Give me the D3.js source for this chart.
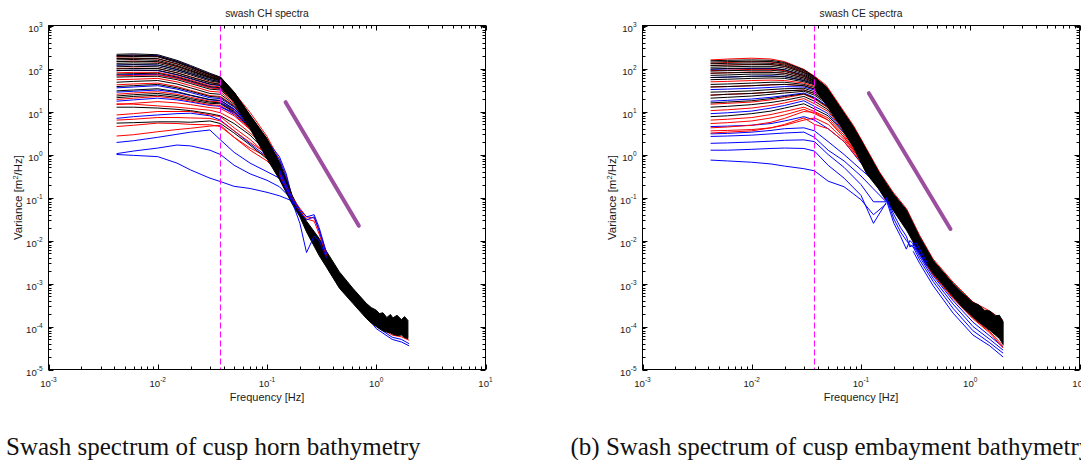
<!DOCTYPE html>
<html>
<head>
<meta charset="utf-8">
<script src="https://cdn.jsdelivr.net/npm/d3@7"></script>
<style>
  body { margin: 0; background: #fff; }
  .ax text { font-family: "Liberation Sans", Arial, sans-serif; fill: #1a1a1a; }
  .cap { font-family: "Liberation Serif", "Times New Roman", serif; fill: #111; }
</style>
</head>
<body>
<svg id="fig" width="1081" height="460"></svg>
<script>
// frequencies (Hz) where the low-frequency part of every spectrum was read
const freqLow = [0.0042, 0.006, 0.01, 0.015, 0.02, 0.03, 0.0375, 0.05, 0.07, 0.1, 0.13, 0.17];

// ---- swash CH (cusp horn) : log10 variance at freqLow ----
const chBlue = [
  [2.30, 2.31, 2.30, 2.17, 2.05, 1.87, 1.79, 1.44, 0.89, 0.34, -0.22, -1.01],
  [2.08, 2.09, 2.08, 1.97, 1.88, 1.74, 1.69, 1.34, 0.78, 0.22, -0.31, -1.04],
  [1.95, 1.96, 1.95, 1.85, 1.76, 1.63, 1.60, 1.28, 0.73, 0.18, -0.35, -1.05],
  [1.85, 1.86, 1.86, 1.78, 1.69, 1.56, 1.53, 1.25, 0.72, 0.17, -0.36, -1.06],
  [1.55, 1.57, 1.60, 1.52, 1.44, 1.32, 1.30, 1.10, 0.67, 0.12, -0.40, -1.08],
  [1.45, 1.47, 1.50, 1.44, 1.37, 1.27, 1.25, 1.05, 0.66, 0.12, -0.40, -1.08],
  [1.24, 1.27, 1.31, 1.27, 1.22, 1.14, 1.12, 0.93, 0.60, 0.09, -0.42, -1.09],
  [0.84, 0.88, 0.92, 0.95, 0.96, 0.90, 0.80, 0.55, 0.25, -0.05, -0.30, -1.02],
  [0.28, 0.32, 0.40, 0.47, 0.52, 0.57, 0.34, 0.05, -0.20, -0.40, -0.55, -1.00],
  [0.02, 0.08, 0.15, 0.22, 0.20, 0.10, 0.00, -0.25, -0.45, -0.60, -0.75, -1.05],
  [0.00, -0.02, -0.05, -0.20, -0.36, -0.55, -0.63, -0.74, -0.79, -0.88, -0.96, -1.08]
];
const chRed = [
  [2.28, 2.29, 2.28, 2.15, 2.03, 1.86, 1.78, 1.43, 0.88, 0.32, -0.24, -1.01],
  [2.24, 2.24, 2.22, 2.10, 1.99, 1.83, 1.76, 1.40, 0.86, 0.30, -0.25, -1.02],
  [2.16, 2.17, 2.15, 2.04, 1.94, 1.79, 1.73, 1.37, 0.82, 0.26, -0.28, -1.03],
  [2.00, 2.01, 2.00, 1.90, 1.81, 1.68, 1.64, 1.31, 0.75, 0.20, -0.33, -1.05],
  [1.90, 1.91, 1.91, 1.82, 1.73, 1.60, 1.57, 1.27, 0.73, 0.18, -0.35, -1.06],
  [1.83, 1.84, 1.85, 1.77, 1.68, 1.55, 1.52, 1.24, 0.71, 0.16, -0.36, -1.06],
  [1.74, 1.75, 1.77, 1.69, 1.60, 1.47, 1.45, 1.20, 0.70, 0.15, -0.38, -1.07],
  [1.62, 1.64, 1.66, 1.58, 1.49, 1.37, 1.35, 1.14, 0.68, 0.13, -0.39, -1.07],
  [1.40, 1.43, 1.46, 1.40, 1.33, 1.24, 1.22, 1.02, 0.64, 0.11, -0.41, -1.08],
  [1.28, 1.31, 1.35, 1.30, 1.24, 1.16, 1.14, 0.95, 0.60, 0.10, -0.42, -1.09],
  [1.16, 1.19, 1.23, 1.20, 1.16, 1.09, 1.07, 0.90, 0.58, 0.12, -0.35, -1.09],
  [1.18, 1.17, 1.13, 1.10, 1.07, 1.03, 0.97, 0.80, 0.50, 0.15, -0.35, -1.05],
  [0.92, 0.95, 1.00, 1.00, 1.00, 0.92, 0.88, 0.62, 0.35, 0.00, -0.38, -1.06],
  [0.80, 0.82, 0.86, 0.86, 0.85, 0.84, 0.78, 0.55, 0.28, 0.02, -0.32, -1.06],
  [0.65, 0.68, 0.73, 0.72, 0.70, 0.69, 0.65, 0.40, 0.15, -0.05, -0.35, -1.07],
  [0.43, 0.46, 0.53, 0.58, 0.61, 0.66, 0.68, 0.40, 0.10, -0.15, -0.45, -1.08]
];
const chBlack = [
  [2.33, 2.34, 2.32, 2.19, 2.07, 1.89, 1.80, 1.45, 0.90, 0.35, -0.20, -1.00],
  [2.30, 2.31, 2.29, 2.16, 2.04, 1.86, 1.78, 1.43, 0.89, 0.33, -0.23, -1.01],
  [2.27, 2.28, 2.27, 2.14, 2.02, 1.85, 1.77, 1.42, 0.88, 0.32, -0.24, -1.02],
  [2.23, 2.24, 2.23, 2.11, 1.99, 1.82, 1.75, 1.40, 0.85, 0.29, -0.26, -1.02],
  [2.20, 2.21, 2.19, 2.07, 1.96, 1.80, 1.74, 1.38, 0.84, 0.28, -0.27, -1.03],
  [2.16, 2.17, 2.16, 2.05, 1.94, 1.79, 1.72, 1.36, 0.82, 0.25, -0.29, -1.03],
  [2.12, 2.13, 2.12, 2.01, 1.91, 1.77, 1.71, 1.35, 0.80, 0.24, -0.30, -1.04],
  [2.08, 2.09, 2.08, 1.98, 1.88, 1.74, 1.69, 1.34, 0.79, 0.22, -0.31, -1.04],
  [2.04, 2.05, 2.04, 1.94, 1.85, 1.71, 1.67, 1.33, 0.77, 0.21, -0.32, -1.05],
  [1.99, 2.00, 2.00, 1.90, 1.80, 1.67, 1.63, 1.30, 0.75, 0.20, -0.33, -1.05],
  [1.95, 1.96, 1.96, 1.86, 1.77, 1.64, 1.61, 1.29, 0.74, 0.19, -0.34, -1.05],
  [1.87, 1.88, 1.89, 1.80, 1.71, 1.58, 1.55, 1.26, 0.72, 0.17, -0.36, -1.06],
  [1.80, 1.81, 1.82, 1.74, 1.65, 1.52, 1.50, 1.23, 0.71, 0.16, -0.37, -1.06],
  [1.68, 1.70, 1.72, 1.64, 1.55, 1.42, 1.40, 1.17, 0.69, 0.14, -0.38, -1.07],
  [1.58, 1.60, 1.63, 1.55, 1.47, 1.35, 1.33, 1.12, 0.67, 0.13, -0.39, -1.07],
  [1.48, 1.50, 1.53, 1.46, 1.38, 1.28, 1.26, 1.06, 0.66, 0.12, -0.40, -1.08],
  [1.36, 1.39, 1.42, 1.37, 1.30, 1.22, 1.20, 1.00, 0.63, 0.11, -0.41, -1.08],
  [1.32, 1.35, 1.38, 1.33, 1.27, 1.19, 1.18, 0.98, 0.62, 0.10, -0.42, -1.09],
  [1.10, 1.10, 1.08, 1.05, 1.02, 0.95, 0.90, 0.72, 0.45, 0.05, -0.40, -1.06],
  [0.73, 0.74, 0.76, 0.76, 0.75, 0.78, 0.72, 0.50, 0.22, -0.10, -0.45, -1.08]
];
// converged high-frequency band (log10 upper / lower edge)
const chBandF  = [0.0375, 0.05, 0.07, 0.1, 0.13, 0.17, 0.2, 0.23, 0.3, 0.35, 0.46, 0.61, 0.81, 0.9, 1.0, 1.07, 1.15, 1.25, 1.35, 1.42, 1.55, 1.7, 1.82, 1.95];
const chBandHi = [1.80, 1.45, 0.92, 0.37, -0.18, -0.95, -1.30, -1.55, -1.95, -2.25, -2.73, -3.11, -3.46, -3.56, -3.62, -3.70, -3.68, -3.79, -3.72, -3.80, -3.74, -3.84, -3.77, -3.86];
const chBandLo = [1.58, 1.22, 0.60, -0.10, -0.58, -1.15, -1.45, -1.80, -2.35, -2.62, -3.11, -3.46, -3.81, -3.92, -4.00, -4.05, -4.10, -4.13, -4.15, -4.18, -4.21, -4.20, -4.26, -4.28];
// lines sticking out of the band
const chEdgeF = [0.0375, 0.05, 0.07, 0.1, 0.13, 0.15, 0.17];
const chEdgeRed  = [[1.62, 1.44, 0.98, 0.42, -0.12, -0.50, -0.98]];
const chEdgeBlue = [[1.20, 1.05, 0.70, 0.32, -0.05, -0.45, -1.00],
                    [1.10, 0.98, 0.65, 0.28, -0.12, -0.55, -1.02]];
const chBumpF = [0.13, 0.17, 0.2, 0.23, 0.27, 0.3, 0.35];
const chBumpRed  = [[-0.40, -1.00, -1.25, -1.45, -1.48, -1.75, -2.30],
                    [-0.45, -1.05, -1.30, -1.50, -1.55, -1.85, -2.35]];
const chBumpBlue = [[-0.35, -1.02, -1.28, -1.45, -1.40, -1.70, -2.28],
                    [-0.40, -1.05, -1.35, -1.52, -1.45, -1.78, -2.32],
                    [-0.50, -1.10, -1.60, -2.28, -1.90, -2.00, -2.40]];
const chEndF = [0.7, 1.0, 1.4, 1.7, 2.0];
const chEndRed  = [[-3.52, -3.98, -4.20, -4.24, -4.32]];
const chEndBlue = [[-3.55, -4.05, -4.30, -4.36, -4.45], [-3.50, -4.00, -4.25, -4.30, -4.40]];
const chSlope = [[0.148, 16.5], [0.693, 0.022]];

// ---- swash CE (cusp embayment) : log10 variance at freqLow ----
const ceBlue = [
  [1.98, 1.99, 2.00, 2.00, 1.97, 1.84, 1.72, 1.42, 0.85, 0.25, -0.30, -0.78],
  [1.79, 1.80, 1.82, 1.83, 1.81, 1.72, 1.64, 1.34, 0.77, 0.17, -0.36, -0.86],
  [1.51, 1.52, 1.54, 1.56, 1.58, 1.57, 1.50, 1.24, 0.67, 0.08, -0.42, -0.95],
  [1.24, 1.26, 1.29, 1.33, 1.37, 1.43, 1.33, 1.12, 0.60, 0.02, -0.46, -1.00],
  [0.95, 0.97, 1.01, 1.08, 1.14, 1.25, 1.12, 0.95, 0.52, -0.06, -0.50, -1.04],
  [0.65, 0.66, 0.68, 0.72, 0.78, 0.88, 0.80, 0.60, 0.30, -0.20, -0.55, -1.06],
  [0.48, 0.49, 0.52, 0.56, 0.60, 0.62, 0.55, 0.30, 0.00, -0.35, -0.60, -1.08],
  [0.42, 0.43, 0.45, 0.48, 0.50, 0.52, 0.40, 0.10, -0.15, -0.50, -0.80, -1.10],
  [0.26, 0.27, 0.29, 0.31, 0.33, 0.34, 0.30, 0.00, -0.30, -0.70, -1.10, -1.10],
  [0.10, 0.10, 0.12, 0.14, 0.15, 0.14, 0.08, -0.25, -0.55, -0.95, -1.60, -1.12],
  [-0.13, -0.15, -0.18, -0.22, -0.27, -0.33, -0.38, -0.62, -0.75, -1.05, -1.40, -1.15]
];
const ceRed = [
  [2.20, 2.22, 2.24, 2.22, 2.16, 1.98, 1.82, 1.52, 0.95, 0.35, -0.20, -0.68],
  [2.12, 2.14, 2.16, 2.15, 2.10, 1.94, 1.79, 1.49, 0.92, 0.32, -0.23, -0.71],
  [2.07, 2.08, 2.10, 2.09, 2.05, 1.90, 1.76, 1.46, 0.89, 0.29, -0.26, -0.74],
  [1.95, 1.96, 1.98, 1.98, 1.95, 1.83, 1.71, 1.41, 0.84, 0.24, -0.31, -0.79],
  [1.89, 1.90, 1.92, 1.92, 1.89, 1.78, 1.68, 1.38, 0.81, 0.21, -0.33, -0.82],
  [1.69, 1.70, 1.72, 1.73, 1.72, 1.66, 1.59, 1.30, 0.73, 0.13, -0.38, -0.90],
  [1.57, 1.58, 1.60, 1.62, 1.63, 1.60, 1.53, 1.26, 0.69, 0.10, -0.41, -0.93],
  [1.38, 1.40, 1.42, 1.45, 1.48, 1.50, 1.42, 1.19, 0.64, 0.05, -0.44, -0.98],
  [1.17, 1.19, 1.22, 1.27, 1.32, 1.40, 1.29, 1.08, 0.58, 0.00, -0.47, -1.01],
  [1.02, 1.04, 1.08, 1.14, 1.20, 1.30, 1.18, 1.00, 0.54, -0.04, -0.49, -1.03],
  [0.80, 0.82, 0.86, 0.93, 1.00, 1.10, 1.00, 0.85, 0.45, -0.10, -0.52, -1.05],
  [0.72, 0.74, 0.78, 0.85, 0.92, 1.05, 0.95, 0.80, 0.40, -0.12, -0.53, -1.06],
  [0.62, 0.64, 0.68, 0.75, 0.84, 1.00, 0.98, 0.80, 0.40, -0.12, -0.53, -1.06],
  [0.55, 0.56, 0.58, 0.62, 0.68, 0.80, 0.85, 0.70, 0.35, -0.15, -0.54, -1.06],
  [0.50, 0.52, 0.55, 0.62, 0.70, 0.85, 0.70, 0.60, 0.30, -0.18, -0.55, -1.07]
];
const ceBlack = [
  [2.18, 2.19, 2.20, 2.19, 2.14, 1.97, 1.81, 1.51, 0.94, 0.34, -0.21, -0.69],
  [2.15, 2.16, 2.17, 2.16, 2.12, 1.95, 1.80, 1.50, 0.93, 0.33, -0.22, -0.70],
  [2.11, 2.12, 2.13, 2.12, 2.08, 1.92, 1.78, 1.48, 0.91, 0.31, -0.24, -0.72],
  [2.07, 2.08, 2.09, 2.09, 2.05, 1.90, 1.76, 1.46, 0.89, 0.29, -0.26, -0.74],
  [2.03, 2.04, 2.05, 2.05, 2.01, 1.87, 1.74, 1.44, 0.87, 0.27, -0.28, -0.76],
  [1.99, 2.00, 2.01, 2.01, 1.97, 1.84, 1.72, 1.42, 0.85, 0.25, -0.30, -0.78],
  [1.94, 1.95, 1.96, 1.96, 1.93, 1.81, 1.70, 1.40, 0.83, 0.23, -0.32, -0.80],
  [1.89, 1.90, 1.91, 1.91, 1.89, 1.78, 1.68, 1.38, 0.81, 0.21, -0.33, -0.82],
  [1.84, 1.85, 1.87, 1.87, 1.85, 1.75, 1.66, 1.36, 0.79, 0.19, -0.34, -0.84],
  [1.79, 1.80, 1.82, 1.82, 1.81, 1.72, 1.64, 1.34, 0.77, 0.17, -0.36, -0.86],
  [1.74, 1.75, 1.77, 1.78, 1.77, 1.69, 1.62, 1.32, 0.75, 0.15, -0.37, -0.88],
  [1.63, 1.64, 1.66, 1.68, 1.68, 1.63, 1.56, 1.28, 0.71, 0.11, -0.40, -0.92],
  [1.57, 1.58, 1.60, 1.62, 1.63, 1.60, 1.52, 1.25, 0.69, 0.09, -0.41, -0.94],
  [1.45, 1.46, 1.48, 1.51, 1.53, 1.54, 1.46, 1.22, 0.66, 0.07, -0.43, -0.96],
  [1.38, 1.40, 1.42, 1.45, 1.48, 1.50, 1.42, 1.19, 0.64, 0.05, -0.44, -0.98],
  [1.31, 1.33, 1.36, 1.40, 1.43, 1.47, 1.38, 1.16, 0.62, 0.03, -0.45, -0.99],
  [1.20, 1.22, 1.25, 1.30, 1.35, 1.41, 1.31, 1.10, 0.59, 0.01, -0.46, -1.00],
  [1.10, 1.12, 1.16, 1.21, 1.26, 1.35, 1.24, 1.04, 0.56, -0.02, -0.48, -1.02],
  [0.88, 0.90, 0.95, 1.01, 1.08, 1.18, 1.06, 0.90, 0.50, -0.08, -0.51, -1.05]
];
const ceBandF  = [0.038, 0.048, 0.064, 0.085, 0.112, 0.148, 0.196, 0.261, 0.344, 0.457, 0.697, 0.85, 1.06, 1.2, 1.35, 1.51, 1.7, 1.85, 2.0];
const ceBandHi = [1.78, 1.58, 1.11, 0.65, 0.11, -0.44, -0.90, -1.29, -1.91, -2.46, -3.00, -3.22, -3.44, -3.50, -3.62, -3.64, -3.75, -3.74, -3.89];
const ceBandLo = [1.50, 1.16, 0.70, 0.18, -0.44, -0.83, -1.29, -1.76, -2.30, -2.77, -3.31, -3.56, -3.78, -3.90, -4.00, -4.09, -4.20, -4.28, -4.42];
const ceEdgeF = [0.038, 0.048, 0.064, 0.085, 0.112, 0.148, 0.196, 0.261, 0.344, 0.457, 0.697, 1.06, 1.51, 2.0];
const ceEdgeRed  = [[1.81, 1.61, 1.14, 0.68, 0.14, -0.41, -0.87, -1.26, -1.88, -2.43, -2.97, -3.43, -3.64, -3.86]];
const ceEdgeBlue = [];
const ceBumpF = [0.17, 0.2, 0.23, 0.26, 0.28, 0.32, 0.4];
const ceBumpRed  = [];
const ceBumpBlue = [[-1.00, -1.50, -1.80, -2.00, -2.10, -2.20, -2.55],
                    [-1.00, -1.40, -1.70, -1.90, -2.15, -2.05, -2.50],
                    [-1.05, -1.60, -1.90, -2.20, -2.00, -2.15, -2.60]];
const ceEndF = [0.3, 0.344, 0.457, 0.697, 1.06, 1.51, 2.0];
const ceEndBlue = [[-2.25, -2.53, -3.05, -3.69, -4.20, -4.45, -4.71],
                   [-2.15, -2.45, -2.95, -3.58, -4.10, -4.38, -4.62],
                   [-2.10, -2.38, -2.88, -3.48, -4.00, -4.30, -4.55],
                   [-2.05, -2.33, -2.82, -3.40, -3.90, -4.22, -4.48]];
const ceEndRed  = [[-2.03, -2.32, -2.80, -3.35, -3.82, -4.15, -4.50],
                   [-2.00, -2.30, -2.78, -3.33, -3.80, -4.12, -4.45]];
const ceSlope = [[0.118, 26.7], [0.659, 0.0185]];

const cutoff = 0.0375;
const xExp = ["-3", "-2", "-1", "0", "1"];
const yExp = ["-5", "-4", "-3", "-2", "-1", "0", "1", "2", "3"];

const svg = d3.select("#fig");
const plotTop = 25.5, plotBottom = 369.5, plotW = 437;

function drawPanel(p) {
  const x = d3.scaleLog().domain([1e-3, 10]).range([p.left, p.left + plotW]);
  const y = d3.scaleLog().domain([1e-5, 1e3]).range([plotBottom, plotTop]);
  const g = svg.append("g").attr("class", "ax");

  g.append("clipPath").attr("id", "clip" + p.id)
    .append("rect").attr("x", p.left).attr("y", plotTop).attr("width", plotW).attr("height", plotBottom - plotTop);
  const plot = g.append("g").attr("clip-path", `url(#clip${p.id})`);

  const line = fs => d3.line().x((d, i) => x(fs[i])).y(d => y(Math.pow(10, d)));
  const drawSet = (fs, set, col, w) => set.forEach(v => {
    plot.append("path").attr("d", line(fs)(v)).attr("fill", "none")
      .attr("stroke", col).attr("stroke-width", w || 1).attr("stroke-linejoin", "round");
  });

  drawSet(freqLow, p.blue, "#0000ff");
  drawSet(freqLow, p.red, "#ff0000");
  drawSet(freqLow, p.black, "#000000");

  drawSet(p.endF, p.endBlue, "#0000ff");
  drawSet(p.endF, p.endRed, "#ff0000");
  drawSet(p.edgeF, p.edgeRed, "#ff0000");
  drawSet(p.edgeF, p.edgeBlue, "#0000ff");

  const area = d3.area()
    .x((d, i) => x(p.bandF[i]))
    .y0((d, i) => y(Math.pow(10, p.bandLo[i])))
    .y1(d => y(Math.pow(10, d)));
  plot.append("path").attr("d", area(p.bandHi)).attr("fill", "#000")
    .attr("stroke", "#000").attr("stroke-width", 1);

  drawSet(p.bumpF, p.bumpRed, "#ff0000");
  drawSet(p.bumpF, p.bumpBlue, "#0000ff");

  // cutoff frequency
  plot.append("line").attr("x1", x(cutoff)).attr("x2", x(cutoff))
    .attr("y1", plotTop).attr("y2", plotBottom)
    .attr("stroke", "#ff00ff").attr("stroke-width", 1).attr("stroke-dasharray", "6,3");

  // reference slope
  plot.append("line")
    .attr("x1", x(p.slope[0][0])).attr("y1", y(p.slope[0][1]))
    .attr("x2", x(p.slope[1][0])).attr("y2", y(p.slope[1][1]))
    .attr("stroke", "#9c4f9f").attr("stroke-width", 4).attr("stroke-linecap", "round");

  // box + ticks
  g.append("rect").attr("x", p.left).attr("y", plotTop).attr("width", plotW).attr("height", plotBottom - plotTop)
    .attr("fill", "none").attr("stroke", "#000").attr("stroke-width", 1);
  const isMajor = t => Math.abs(Math.log10(t) - Math.round(Math.log10(t))) < 1e-6;
  const tk = g.append("g").attr("stroke", "#000").attr("stroke-width", 1);
  x.ticks().forEach(t => {
    const L = isMajor(t) ? 5 : 3, xx = Math.round(x(t)) + 0.5;
    tk.append("line").attr("x1", xx).attr("x2", xx).attr("y1", plotBottom).attr("y2", plotBottom - L);
    tk.append("line").attr("x1", xx).attr("x2", xx).attr("y1", plotTop).attr("y2", plotTop + L);
  });
  y.ticks().forEach(t => {
    const L = isMajor(t) ? 5 : 3, yy = Math.round(y(t)) + 0.5;
    tk.append("line").attr("x1", p.left).attr("x2", p.left + L).attr("y1", yy).attr("y2", yy);
    tk.append("line").attr("x1", p.left + plotW).attr("x2", p.left + plotW - L).attr("y1", yy).attr("y2", yy);
  });

  const pow = (sel, e) => {
    sel.append("tspan").text("10");
    sel.append("tspan").attr("dy", -5).attr("font-size", 6.5).text(e);
  };
  x.ticks().filter(isMajor).forEach((t, i) => {
    const tx = g.append("text").attr("x", x(t)).attr("y", plotBottom + 17)
      .attr("text-anchor", "middle").attr("font-size", 9.6);
    pow(tx, xExp[i]);
  });
  y.ticks().filter(isMajor).forEach((t, i) => {
    const tx = g.append("text").attr("x", p.left - 6).attr("y", y(t) + 6)
      .attr("text-anchor", "end").attr("font-size", 9.6);
    pow(tx, yExp[i]);
  });

  g.append("text").attr("x", p.left + plotW / 2).attr("y", 17)
    .attr("text-anchor", "middle").attr("font-size", 10.3).text(p.title);
  g.append("text").attr("x", p.left + plotW / 2).attr("y", 401)
    .attr("text-anchor", "middle").attr("font-size", 11).text("Frequency [Hz]");
  const yl = g.append("text").attr("transform", `translate(${p.left - 27},${(plotTop + plotBottom) / 2}) rotate(-90)`)
    .attr("text-anchor", "middle").attr("font-size", 11.5);
  yl.append("tspan").text("Variance [m");
  yl.append("tspan").attr("dy", -4).attr("font-size", 7.5).text("2");
  yl.append("tspan").attr("dy", 4).text("/Hz]");

  svg.append("text").attr("class", "cap").attr("x", p.capX).attr("y", 455)
    .attr("font-size", 25).text(p.caption);
}

drawPanel({
  id: "ch", left: 48.5, title: "swash CH spectra",
  blue: chBlue, red: chRed, black: chBlack,
  bandF: chBandF, bandHi: chBandHi, bandLo: chBandLo,
  edgeF: chEdgeF, edgeRed: chEdgeRed, edgeBlue: chEdgeBlue,
  bumpF: chBumpF, bumpRed: chBumpRed, bumpBlue: chBumpBlue,
  endF: chEndF, endRed: chEndRed, endBlue: chEndBlue,
  slope: chSlope, capX: 6, caption: "Swash spectrum of cusp horn bathymetry"
});
drawPanel({
  id: "ce", left: 642.5, title: "swash CE spectra",
  blue: ceBlue, red: ceRed, black: ceBlack,
  bandF: ceBandF, bandHi: ceBandHi, bandLo: ceBandLo,
  edgeF: ceEdgeF, edgeRed: ceEdgeRed, edgeBlue: ceEdgeBlue,
  bumpF: ceBumpF, bumpRed: ceBumpRed, bumpBlue: ceBumpBlue,
  endF: ceEndF, endRed: ceEndRed, endBlue: ceEndBlue,
  slope: ceSlope, capX: 570.5, caption: "(b) Swash spectrum of cusp embayment bathymetry"
});
</script>
</body>
</html>
